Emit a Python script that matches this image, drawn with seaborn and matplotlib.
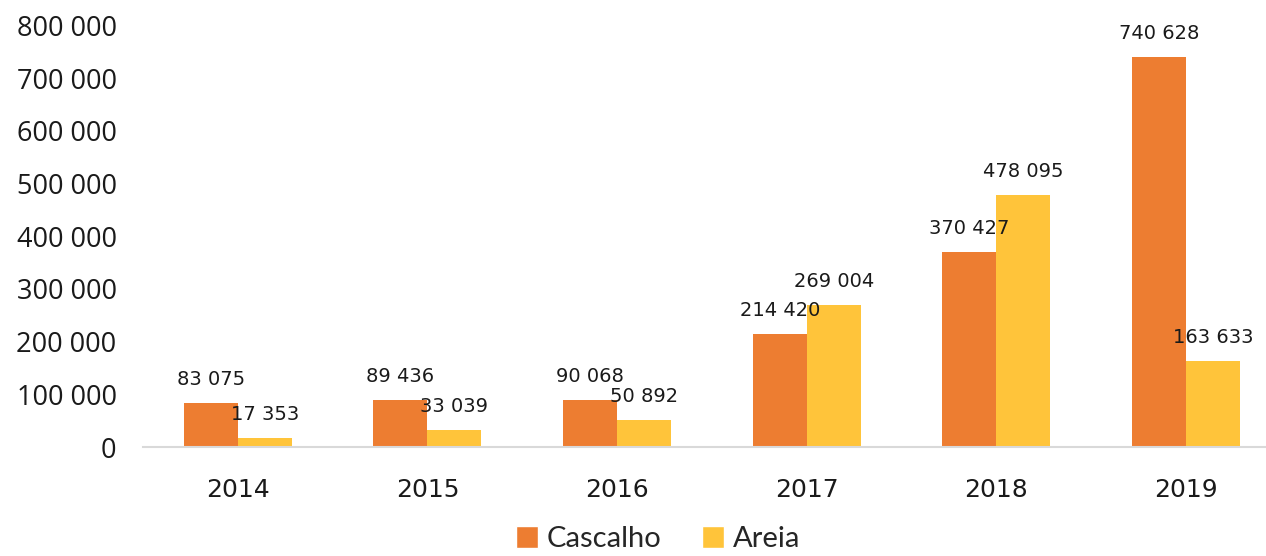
import matplotlib
matplotlib.use("Agg")
import matplotlib.pyplot as plt
import seaborn as sns
import pandas as pd
from matplotlib.ticker import FuncFormatter
from matplotlib.patches import Patch

years = ["2014", "2015", "2016", "2017", "2018", "2019"]
cascalho = [83075, 89436, 90068, 214420, 370427, 740628]
areia = [17353, 33039, 50892, 269004, 478095, 163633]
series = ["Cascalho", "Areia"]
colors = ["#ED7D31", "#FFC43A"]
yticks = [0, 100000, 200000, 300000, 400000, 500000, 600000, 700000, 800000]

df = pd.DataFrame({
    "Ano": years * 2,
    "Valor": cascalho + areia,
    "Produto": [series[0]] * len(years) + [series[1]] * len(years),
})

sns.set_style("white")
fig = plt.figure(figsize=(12.66, 5.56), dpi=100)
ax = fig.add_axes([143 / 1266, 1 - 447 / 556, 1 - 143 / 1266, (447 - 25.4) / 556])

sns.barplot(data=df, x="Ano", y="Valor", hue="Produto", palette=colors,
            width=0.57, gap=0, ax=ax, legend=False, saturation=1, linewidth=0)

fmt = lambda v: f"{int(round(v)):,}".replace(",", " ")
for cont in ax.containers:
    ax.bar_label(cont, labels=[fmt(b.get_height()) for b in cont],
                 padding=10, fontsize=14, family="DejaVu Sans", color="#1a1a1a")

ax.set_xlim(-0.5, (1266 - 238) / 189.6)
ax.set_ylim(0, 800000)
ax.set_yticks(yticks)
ax.yaxis.set_major_formatter(FuncFormatter(lambda v, p: fmt(v)))
ax.tick_params(axis="y", length=0, pad=19, labelcolor="#1a1a1a")
ax.tick_params(axis="x", length=0, pad=22, labelsize=18, labelcolor="#1a1a1a")
for lab in ax.get_yticklabels():
    lab.set_fontfamily("Open Sans")
    lab.set_fontsize(19.5)
ax.set_xlabel("")
ax.set_ylabel("")
for s in ["left", "right", "top"]:
    ax.spines[s].set_visible(False)
ax.spines["bottom"].set_color("#D9D9D9")
ax.spines["bottom"].set_linewidth(1.5)

handles = [Patch(facecolor=c, label=s) for c, s in zip(colors, series)]
fig.legend(handles=handles, loc="lower center", bbox_to_anchor=(0.52, -0.04), ncol=2,
           frameon=False, prop={"family": "Lato", "size": 21},
           handlelength=0.75, handleheight=0.75, handletextpad=0.3, columnspacing=1.4)

fig.savefig("out.png", dpi=100)
